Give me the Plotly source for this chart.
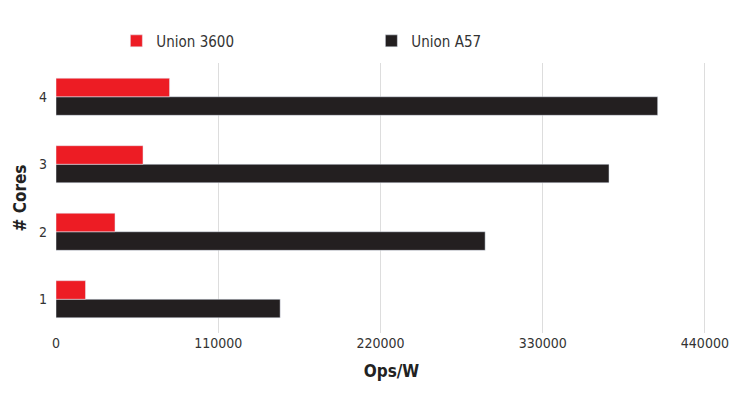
import plotly.graph_objects as go

cores = ["1", "2", "3", "4"]
union_3600 = [20000, 40000, 59000, 77000]
union_a57 = [152000, 291000, 375000, 408000]
x_ticks = [0, 110000, 220000, 330000, 440000]

font = "Liberation Sans Narrow, DejaVu Sans Condensed, sans-serif"
fig = go.Figure()
fig.add_trace(go.Bar(y=cores, x=union_a57, orientation="h", name="Union A57", marker_color="#231f20"))
fig.add_trace(go.Bar(y=cores, x=union_3600, orientation="h", name="Union 3600", marker_color="#ed1c24"))
fig.update_layout(
    width=744, height=403, barmode="group", bargap=0.45, bargroupgap=0,
    plot_bgcolor="white", paper_bgcolor="white",
    margin=dict(l=48, r=25, t=55, b=78),
    font=dict(family=font, size=14, color="#333"),
    legend=dict(orientation="h", x=0.47, xanchor="center", y=1.02, yanchor="bottom",
                traceorder="reversed", font=dict(size=15), itemwidth=30, entrywidth=210),
    xaxis=dict(range=[0, 455000], tickvals=x_ticks, ticktext=[str(v) for v in x_ticks],
               showgrid=True, gridcolor="#dddddd",
               zeroline=False, showline=False, ticks="",
               title=dict(text="<b>Ops/W</b>", font=dict(size=17, color="#222"))),
    yaxis=dict(showgrid=False, showline=False, ticks="", ticksuffix="  ",
               title=dict(text="<b># Cores</b>", font=dict(size=17, color="#222"), standoff=8)),
)
fig.write_html("out.html")
